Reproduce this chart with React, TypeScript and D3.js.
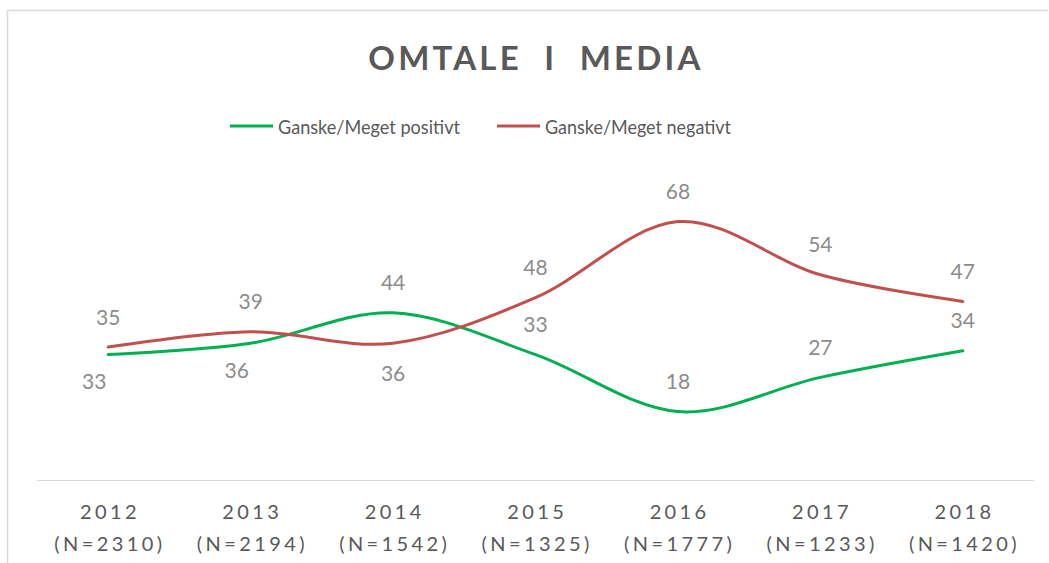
import React from "react";
import * as d3 from "d3";

const years = ["2012", "2013", "2014", "2015", "2016", "2017", "2018"];
const sampleSizes = ["2310", "2194", "1542", "1325", "1777", "1233", "1420"];
const positive = [33, 36, 44, 33, 18, 27, 34];
const negative = [35, 39, 36, 48, 68, 54, 47];
const positiveLabelPlacement = ["belowLeft", "belowLeft", "above", "above", "above", "above", "above"];
const negativeLabelPlacement = ["above", "above", "below", "above", "above", "above", "above"];
const seriesNames = ["Ganske/Meget positivt", "Ganske/Meget negativt"];
const title = "OMTALE  I  MEDIA";

const W = 1049;
const H = 563;
const FONT = "Lato, 'Open Sans', sans-serif";
const TEXT = "#595959";
const LABEL = "#8c8c8c";
const GREEN = "#00b050";
const RED = "#c0504d";

export default function App() {
  const x = d3.scaleBand<string>().domain(years).range([37, 1034]);
  const cx = (d: string) => (x(d) as number) + x.bandwidth() / 2;
  const y = d3.scaleLinear().domain([0, 80]).range([480, 176]);
  const line = d3
    .line<number>()
    .x((_, i) => cx(years[i]))
    .y((v) => y(v))
    .curve(d3.curveCatmullRom.alpha(0));

  const series = [
    { name: seriesNames[0], values: positive, color: GREEN, place: positiveLabelPlacement },
    { name: seriesNames[1], values: negative, color: RED, place: negativeLabelPlacement },
  ];

  const labelPos = (place: string, px: number, py: number) => {
    if (place === "below") return { lx: px, ly: py + 29 };
    if (place === "belowLeft") return { lx: px - 14, ly: py + 26 };
    return { lx: px, ly: py - 31 };
  };

  return (
    <svg width={W} height={H} style={{ position: "absolute", left: 0, top: 0, background: "#fff" }}>
      <line x1={7.5} x2={7.5} y1={10} y2={H} stroke="#d9d9d9" strokeWidth={1.5} />
      <line x1={7} x2={1048} y1={10.5} y2={10.5} stroke="#d9d9d9" strokeWidth={1.5} />
      <text
        x={536}
        y={57}
        textAnchor="middle"
        dominantBaseline="central"
        fontFamily={FONT}
        fontWeight={700}
        fontSize={33}
        letterSpacing={3.2}
        fill={TEXT}
        style={{ whiteSpace: "pre" }}
      >
        {title}
      </text>

      {/* legend */}
      <g fontFamily={FONT} fontSize={19} fill={TEXT}>
        <line x1={230} x2={273} y1={126} y2={126} stroke={GREEN} strokeWidth={3} />
        <text x={278} y={126} dominantBaseline="central" textLength={182} lengthAdjust="spacingAndGlyphs">
          {seriesNames[0]}
        </text>
        <line x1={497} x2={540} y1={126} y2={126} stroke={RED} strokeWidth={3} />
        <text x={545} y={126} dominantBaseline="central" textLength={186} lengthAdjust="spacingAndGlyphs">
          {seriesNames[1]}
        </text>
      </g>

      {/* axis */}
      <line x1={37} x2={1034} y1={480.5} y2={480.5} stroke="#d9d9d9" strokeWidth={1.2} />
      <g fontFamily={FONT} fontSize={20} fill={TEXT} letterSpacing={3.4}>
        {years.map((yr, i) => (
          <g key={yr}>
            <text x={cx(yr) + 1.7} y={511} textAnchor="middle" dominantBaseline="central">
              {yr}
            </text>
            <text x={cx(yr) + 1.7} y={543} textAnchor="middle" dominantBaseline="central">
              {`(N=${sampleSizes[i]})`}
            </text>
          </g>
        ))}
      </g>

      {series.map((s) => (
        <path key={s.name} d={line(s.values) || ""} fill="none" stroke={s.color} strokeWidth={3} strokeLinecap="round" />
      ))}

      <g fontFamily={FONT} fontSize={21} fill={LABEL}>
        {series.map((s) =>
          s.values.map((v, i) => {
            const { lx, ly } = labelPos(s.place[i], cx(years[i]), y(v));
            return (
              <text key={s.name + i} x={lx} y={ly} textAnchor="middle" dominantBaseline="central">
                {v}
              </text>
            );
          })
        )}
      </g>
    </svg>
  );
}
